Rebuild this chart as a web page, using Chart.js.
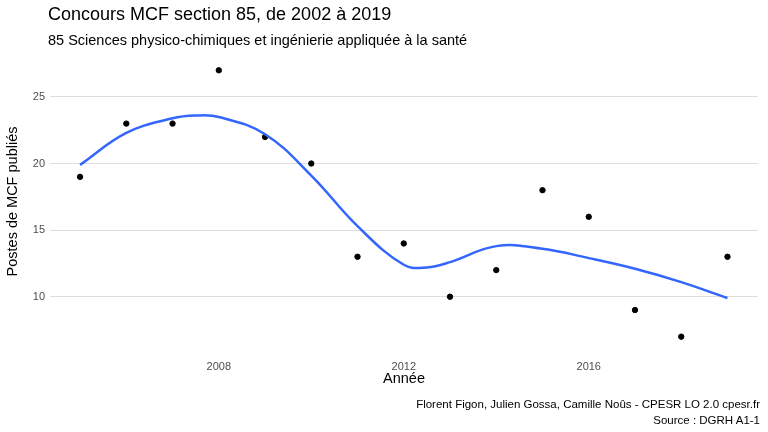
<!DOCTYPE html>
<html><head><meta charset="utf-8">
<script src="https://cdn.jsdelivr.net/npm/chart.js@4"></script>
<style>
body{margin:0;width:768px;height:432px;position:relative;font-family:"Liberation Sans",Arial,sans-serif;background:#fff;overflow:hidden}
#c{position:absolute;left:0;top:0}
.t{position:absolute;white-space:nowrap;color:#000}
</style></head><body>
<canvas id="c" width="768" height="432"></canvas>
<div class="t" style="left:48px;top:4px;font-size:18px">Concours MCF section 85, de 2002 à 2019</div>
<div class="t" style="left:48px;top:32px;font-size:14.5px">85 Sciences physico-chimiques et ingénierie appliquée à la santé</div>
<div class="t" style="right:8px;top:396px;font-size:11.5px;text-align:right;line-height:16px">Florent Figon, Julien Gossa, Camille Noûs - CPESR LO 2.0 cpesr.fr<br>Source : DGRH A1-1</div>
<script>
const years=[2005,2006,2007,2008,2009,2010,2011,2012,2013,2014,2015,2016,2017,2018,2019];
const postes=[19,23,23,27,22,20,13,14,10,12,18,16,9,7,13];
const smoothX=[2005,2006,2007,2007.5,2008,2009,2010,2011,2012,2012.5,2013,2014,2015,2016,2017,2018,2019];
const smoothY=[19.9,22.3,23.4,23.6,23.5,22.2,19.1,15.3,12.4,12.2,12.6,13.8,13.6,12.9,12.1,11.1,9.9];
const xTicks=[2008,2012,2016];
const yTicks=[10,15,20,25];
new Chart(document.getElementById('c'),{
 data:{datasets:[
  {type:'line',data:smoothX.map((x,i)=>({x,y:smoothY[i]})),borderColor:'#3366FF',borderWidth:2.5,pointRadius:0,tension:0.4,fill:false},
  {type:'scatter',data:years.map((x,i)=>({x,y:postes[i]})),backgroundColor:'#000',borderColor:'#000',pointRadius:2.7}
 ]},
 options:{responsive:false,animation:false,events:[],
  layout:{padding:{top:57,right:10,bottom:40,left:0}},
  plugins:{legend:{display:false},tooltip:{enabled:false}},
  scales:{
   x:{type:'linear',min:2004.35,max:2019.66,
     afterBuildTicks:s=>{s.ticks=xTicks.map(v=>({value:v}))},
     afterFit:s=>{s.height=46},
     grid:{display:false},border:{display:false},
     ticks:{color:'#4d4d4d',font:{size:11,family:'Liberation Sans'},padding:6,callback:v=>String(v)},
     title:{display:true,text:'Année',color:'#000',font:{size:14.5,family:'Liberation Sans'},padding:{top:2}}},
   y:{min:6.3,max:28,
     afterBuildTicks:s=>{s.ticks=yTicks.map(v=>({value:v}))},
     afterFit:s=>{s.width=50},
     grid:{color:'#dedede',lineWidth:1,drawTicks:false},border:{display:false},
     ticks:{color:'#4d4d4d',font:{size:11,family:'Liberation Sans'},padding:5},
     title:{display:true,text:'Postes de MCF publiés',color:'#000',font:{size:14.5,family:'Liberation Sans'},padding:{bottom:2}}}
  }}
});
</script></body></html>
